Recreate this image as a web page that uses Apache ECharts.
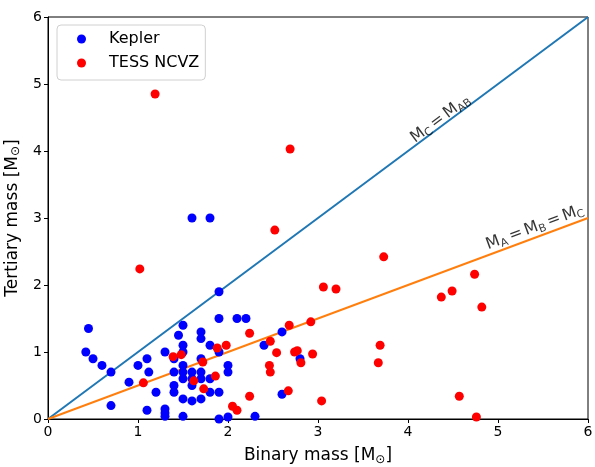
<!DOCTYPE html>
<html>
<head>
<meta charset="utf-8">
<script src="https://cdn.jsdelivr.net/npm/echarts@6/dist/echarts.min.js"></script>
<style>
html,body{margin:0;padding:0;background:#fff;}
#chart{width:595px;height:467px;}
</style>
</head>
<body>
<div id="chart"></div>
<script>
const keplerX = [0.45,0.42,0.5,0.6,0.7,0.7,0.9,1.0,1.1,1.12,1.2,1.1,1.3,1.3,1.3,1.3,1.4,1.4,1.4,1.4,1.5,1.45,1.5,1.5,1.5,1.5,1.5,1.5,1.5,1.6,1.6,1.6,1.6,1.7,1.7,1.7,1.7,1.7,1.7,1.8,1.8,1.8,1.9,1.9,1.9,1.9,1.9,2.0,2.0,2.0,2.1,2.2,2.3,2.4,2.6,2.6,2.8,1.6,1.8];
const keplerY = [1.35,1.0,0.9,0.8,0.7,0.2,0.55,0.8,0.9,0.7,0.4,0.13,1.0,0.15,0.09,0.04,0.9,0.7,0.5,0.4,1.4,1.25,1.1,1.0,0.8,0.7,0.6,0.3,0.04,0.7,0.6,0.5,0.27,1.3,1.2,0.9,0.7,0.6,0.3,1.1,0.6,0.4,1.0,0.4,0.0,1.5,1.9,0.8,0.7,0.03,1.5,1.5,0.04,1.1,1.3,0.37,0.9,3.0,3.0];
const tessX = [1.19,2.69,2.52,1.02,3.06,3.2,3.73,4.74,4.37,4.49,4.82,3.69,3.67,4.57,4.76,1.39,1.48,1.06,1.62,1.88,1.98,1.72,1.86,1.73,2.24,2.24,2.05,2.10,2.68,2.92,2.47,2.54,2.74,2.77,2.94,2.81,2.46,2.47,2.67,3.04];
const tessY = [4.85,4.03,2.82,2.24,1.97,1.94,2.42,2.16,1.82,1.91,1.67,1.10,0.84,0.34,0.03,0.93,0.96,0.54,0.57,1.06,1.10,0.85,0.64,0.45,1.28,0.34,0.19,0.13,1.40,1.45,1.16,0.99,1.0,1.02,0.97,0.84,0.80,0.70,0.42,0.27];
const lineEqualX = [0, 6];
const lineEqualY = [0, 6];
const lineHalfX = [0, 6];
const lineHalfY = [0, 3];
const seriesNames = ['Kepler', 'TESS NCVZ'];
const xLabel = 'Binary mass';
const yLabel = 'Tertiary mass';

const zip = (a, b) => a.map((v, i) => [v, b[i]]);
const font = 'DejaVu Sans';
const chart = echarts.init(document.getElementById('chart'), null, {renderer: 'canvas'});

const mainRich = {
  a: {fontFamily: font, fontSize: 17, color: '#000'},
  s: {fontFamily: font, fontSize: 12, color: '#000', padding: [8, 0, 0, 0]}
};
const annRich = {
  a: {fontFamily: font, fontSize: 16, color: '#000'},
  e: {fontFamily: font, fontSize: 16, color: '#000', padding: [0, 3, 0, 3]},
  s: {fontFamily: font, fontSize: 11, color: '#000', padding: [8, 0, 0, 0]}
};

chart.setOption({
  animation: false,
  backgroundColor: '#fff',
  grid: {left: 48, right: 7, top: 17, bottom: 48, containLabel: false, outerBoundsMode: 'none',
         show: true, borderColor: '#000', borderWidth: 1, backgroundColor: 'transparent'},
  legend: {
    data: seriesNames,
    orient: 'vertical',
    left: 57, top: 25,
    padding: [6, 6, 9, 20],
    itemGap: 8,
    itemWidth: 9, itemHeight: 9,
    icon: 'circle',
    borderColor: '#d0d0d0', borderWidth: 1, borderRadius: 4,
    backgroundColor: 'rgba(255,255,255,0.8)',
    textStyle: {fontFamily: font, fontSize: 16, color: '#000', padding: [0, 0, 0, 18]}
  },
  xAxis: {
    type: 'value', min: 0, max: 6, interval: 1,
    name: '{a|' + xLabel + ' [M}{s|⊙}{a|]}',
    nameLocation: 'middle', nameGap: 27,
    nameTextStyle: {rich: mainRich},
    axisLine: {show: true, onZero: false, lineStyle: {color: '#000', width: 1}},
    axisTick: {show: true, length: 4, lineStyle: {color: '#000'}},
    axisLabel: {fontFamily: font, fontSize: 14, color: '#000', margin: 6},
    splitLine: {show: false}
  },
  yAxis: {
    type: 'value', min: 0, max: 6, interval: 1,
    name: '{a|' + yLabel + ' [M}{s|⊙}{a|]}',
    nameLocation: 'middle', nameGap: 24,
    nameTextStyle: {rich: mainRich},
    axisLine: {show: true, onZero: false, lineStyle: {color: '#000', width: 1}},
    axisTick: {show: true, length: 4, lineStyle: {color: '#000'}},
    axisLabel: {fontFamily: font, fontSize: 14, color: '#000', margin: 6},
    splitLine: {show: false}
  },
  series: [
    {type: 'line', data: zip(lineEqualX, lineEqualY), showSymbol: false, symbol: 'none', silent: true,
     lineStyle: {color: '#1f77b4', width: 2}, z: 1},
    {type: 'line', data: zip(lineHalfX, lineHalfY), showSymbol: false, symbol: 'none', silent: true,
     lineStyle: {color: '#ff7f0e', width: 2}, z: 1},
    {name: seriesNames[0], type: 'scatter', data: zip(keplerX, keplerY), symbolSize: 9,
     itemStyle: {color: '#0000ff', opacity: 1}, z: 3},
    {name: seriesNames[1], type: 'scatter', data: zip(tessX, tessY), symbolSize: 9,
     itemStyle: {color: '#ff0000', opacity: 1}, z: 4},
    {type: 'scatter', symbolSize: 0, silent: true, z: 5,
     data: [
       {value: [4.36, 4.48], label: {rotate: 36.7, formatter: '{a|M}{s|C}{e|=}{a|M}{s|AB}'}},
       {value: [5.41, 2.86], label: {rotate: 20.4, formatter: '{a|M}{s|A}{e|=}{a|M}{s|B}{e|=}{a|M}{s|C}'}}
     ],
     label: {show: true, position: 'inside', rich: annRich}
    }
  ]
});
</script>
</body>
</html>
